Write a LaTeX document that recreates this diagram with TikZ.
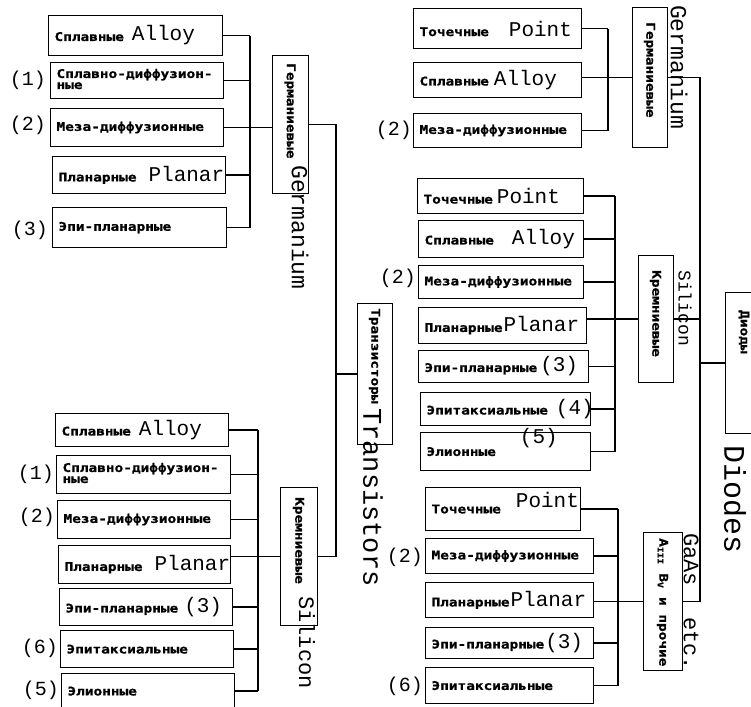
\documentclass[tikz,border=0pt]{standalone}
\usepackage{fontspec}
\setmainfont{Liberation Mono}
\newfontfamily\rufont[FakeStretch=1.2,FakeBold=1]{DejaVu Sans Mono}
\newfontfamily\entt{Liberation Mono}
\newcommand\rut{\rufont\bfseries\fontsize{12}{11}\selectfont}
\newcommand\ent[1]{{\entt\mdseries\fontsize{21}{21}\selectfont #1}}
\newcommand\bx[6]{%
  \pgfmathsetmacro\bxw{#4-#2-14}%
  \pgfmathsetmacro\bxh{#5-#3}%
  \node[box, text width=\bxw pt, minimum height=\bxh pt] (#1) at (#2,#3) {\rlap{#6}};}
\newcommand\vbx[5]{%
  \pgfmathsetmacro\bxw{#4-#2}%
  \pgfmathsetmacro\bxh{#5-#3}%
  \node[vbox, minimum width=\bxw pt, minimum height=\bxh pt] (#1) at (#2,#3) {};}
\begin{document}
\begin{tikzpicture}[x=1pt,y=-1pt,
  box/.style={draw, line width=1.1pt, anchor=north west, inner xsep=6pt, inner ysep=0pt, align=left, font=\rut},
  vbox/.style={draw, line width=1.1pt, anchor=north west, inner sep=0pt},
  vru/.style={rotate=-90, anchor=west, inner sep=0pt, font=\rut},
  ven/.style={rotate=-90, anchor=west, inner sep=0pt, font={\entt\fontsize{#1}{#1}\selectfont}},
  num/.style={anchor=east, inner sep=0pt, font={\entt\fontsize{20}{20}\selectfont}},
  conn/.style={line width=1.3pt}]
\useasboundingbox (0,0) rectangle (751,706);

% ---------- Left top: Germanium transistors ----------
\bx{lt1}{48}{15}{224}{55}{Сплавные\hspace{8pt}\ent{Alloy}}
\bx{lt2}{50}{62}{225}{98}{\begin{tabular}{@{}l@{}}Сплавно-диффузион-\\ные\end{tabular}}
\bx{lt3}{50}{108}{225}{146}{Меза-диффузионные}
\bx{lt4}{52}{156}{227}{193}{Планарные\hspace{12pt}\ent{Planar}}
\bx{lt5}{52}{207}{228}{247}{Эпи-планарные}
\node[num] (ltn1) at (46,80) {(1)};
\node[num] (ltn2) at (46,125) {(2)};
\node[num] (ltn3) at (48,230) {(3)};
\vbx{ltG}{272}{55}{308}{193}
\node[vru] (ltGt) at (290,63) {Германиевые};
\node[ven=23] (ltGe) at (300,165) {Germanium};
\coordinate (ltbus) at (250,0);
\foreach \n in {lt1,lt2,lt4,lt5} \draw[conn] (\n.east) -- (\n.east -| ltbus);
\draw[conn] (lt1.east -| ltbus) -- (lt5.east -| ltbus);
\draw[conn] (lt3.east) -- (lt3.east -| ltG.west);

% ---------- Transistors ----------
\vbx{TR}{357}{303}{392}{444}
\node[vru] (TRt) at (374.5,308) {Транзисторы};
\node[ven=27] (TRe) at (373,408) {Transistors};

% ---------- Left bottom: Silicon transistors ----------
\bx{lb1}{55}{413}{230}{446}{Сплавные\hspace{8pt}\ent{Alloy}}
\bx{lb2}{56}{455}{232}{493}{\begin{tabular}{@{}l@{}}Сплавно-диффузион-\\ные\end{tabular}}
\bx{lb3}{57}{500}{232}{538}{Меза-диффузионные}
\bx{lb4}{58}{545}{232}{583}{Планарные\hspace{12pt}\ent{Planar}}
\bx{lb5}{59}{588}{234}{625}{Эпи-планарные\hspace{6pt}\ent{(3)}}
\bx{lb6}{60}{630}{235}{667}{Эпитаксиальные}
\bx{lb7}{61}{673}{236}{708}{Элионные}
\node[num] (lbn1) at (54,474) {(1)};
\node[num] (lbn2) at (55,517) {(2)};
\node[num] (lbn6) at (58,648) {(6)};
\node[num] (lbn5) at (59,690) {(5)};
\vbx{lbK}{280}{487}{317}{625}
\node[vru] (lbKt) at (298.5,497) {Кремниевые};
\node[ven=22] (lbKe) at (307,596) {Silicon};
\coordinate (lbbus) at (258,0);
\foreach \n in {lb1,lb2,lb3,lb5,lb6,lb7} \draw[conn] (\n.east) -- (\n.east -| lbbus);
\draw[conn] (lb1.east -| lbbus) -- (lb7.east -| lbbus);
\draw[conn] (lbK.west -| lb4.east) -- (lbK.west);

% ---------- Transistor trunk ----------
\coordinate (trbus) at (336,0);
\draw[conn] (ltG.east) -| (trbus |- lbK.east) -- (lbK.east);
\draw[conn] (trbus |- TR.west) -- (TR.west);

% ---------- Right top: Germanium diodes ----------
\bx{rt1}{413}{8}{583}{48}{Точечные\hspace{20pt}\ent{Point}}
\bx{rt2}{413}{62}{583}{97}{Сплавные\hspace{5pt}\ent{Alloy}}
\bx{rt3}{413}{113}{583}{147}{Меза-диффузионные}
\node[num] (rtn2) at (412,130) {(2)};
\vbx{rtG}{632}{7}{667}{147}
\node[vru] (rtGt) at (649.5,22) {Германиевые};
\node[ven=23] (rtGe) at (679,5) {Germanium};
\coordinate (rtbus) at (608,0);
\foreach \n in {rt1,rt3} \draw[conn] (\n.east) -- (\n.east -| rtbus);
\draw[conn] (rt1.east -| rtbus) -- (rt3.east -| rtbus);
\draw[conn] (rtG.west -| rt2.east) -- (rtG.west);

% ---------- Right middle: Silicon diodes ----------
\bx{rm1}{417}{178}{585}{213}{Точечные\hspace{4pt}\ent{Point}}
\bx{rm2}{418}{220}{585}{257}{Сплавные\hspace{18pt}\ent{Alloy}}
\bx{rm3}{418}{265}{585}{298}{Меза-диффузионные}
\bx{rm4}{418}{307}{588}{343}{Планарные\hspace{1pt}\ent{Planar}}
\bx{rm5}{418}{350}{590}{382}{Эпи-планарные\hspace{3pt}\ent{(3)}}
\bx{rm6}{420}{392}{592}{425}{Эпитаксиальные\hspace{8pt}\ent{(4)}}
\bx{rm7}{420}{432}{592}{470}{Элионные\hspace{24pt}\raisebox{12pt}[0pt][0pt]{\ent{(5)}}}
\node[num] (rmn2) at (416,278) {(2)};
\vbx{rmK}{638}{255}{673}{382}
\node[vru] (rmKt) at (655.5,270) {Кремниевые};
\node[ven=18] (rmKe) at (685,270) {Silicon};
\coordinate (rmbus) at (615,0);
\foreach \n in {rm1,rm2,rm3,rm5,rm6,rm7} \draw[conn] (\n.east) -- (\n.east -| rmbus);
\draw[conn] (rm1.east -| rmbus) -- (rm7.east -| rmbus);
\draw[conn] (rmK.west -| rm4.east) -- (rmK.west);

% ---------- Right bottom: GaAs diodes ----------
\bx{rb1}{425}{487}{582}{530}{Точечные\hspace{15pt}\raisebox{6pt}[0pt][0pt]{\ent{Point}}}
\bx{rb2}{425}{538}{595}{573}{Меза-диффузионные}
\bx{rb3}{425}{582}{595}{617}{Планарные\hspace{1pt}\ent{Planar}}
\bx{rb4}{425}{627}{595}{658}{Эпи-планарные\hspace{1pt}\ent{(3)}}
\bx{rb5}{425}{667}{595}{703}{Эпитаксиальные}
\node[num] (rbn2) at (423,557) {(2)};
\node[num] (rbn6) at (423,686) {(6)};
\vbx{rA}{643}{532}{682}{670}
\node[vru] (rAt) at (662.5,538) {A\textsubscript{III} B\textsubscript{V} и прочие};
\node[ven=22] (rAe1) at (691,533) {GaAs};
\node[ven=22] (rAe2) at (691,617) {etc.};
\coordinate (rbbus) at (618,0);
\foreach \n in {rb1,rb2,rb4,rb5} \draw[conn] (\n.east) -- (\n.east -| rbbus);
\draw[conn] (rb1.east -| rbbus) -- (rb5.east -| rbbus);
\draw[conn] (rA.west -| rb3.east) -- (rA.west);

% ---------- Diodes ----------
\vbx{D}{725}{292}{770}{433}
\node[vru] (Dt) at (744,310) {Диоды};
\node[ven=30] (De) at (735,445) {Diodes};
\coordinate (dbus) at (700,0);
\draw[conn] (rtG.east) -| (dbus |- rA.east) -- (rA.east);
\draw[conn] (rmK.east) -- (dbus |- rmK.east);
\draw[conn] (dbus |- D.west) -- (D.west);
\end{tikzpicture}
\end{document}
